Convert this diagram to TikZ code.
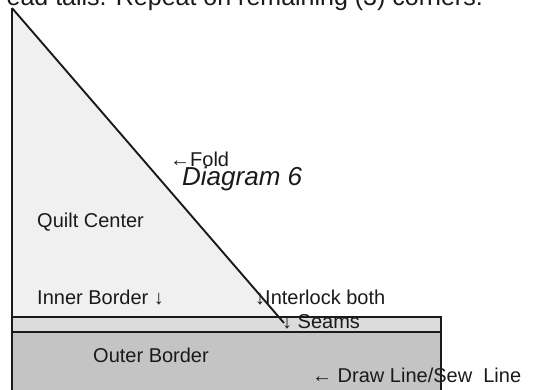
\documentclass[tikz,border=0pt]{standalone}
\usepackage{fontspec}
\setmainfont{Liberation Sans}
\usetikzlibrary{positioning}
\definecolor{ink}      {HTML}{1A1A1A}
\definecolor{centerfill}{HTML}{F0F0F0}
\definecolor{innerfill}{HTML}{DCDCDC}
\definecolor{outerfill}{HTML}{C4C4C4}
\tikzset{
  edgeline/.style ={draw=ink, line width=1.9pt},
  lbl/.style      ={anchor=base west, inner sep=0pt, text=ink,
                    font=\fontsize{20}{24}\selectfont},
  titlelbl/.style ={anchor=base west, inner sep=0pt, text=ink,
                    font=\fontsize{26}{30}\selectfont\itshape},
}
\begin{document}
\begin{tikzpicture}[x=1pt,y=-1pt]
    \useasboundingbox (0,0) rectangle (550,390);
    \clip (0,0) rectangle (550,390);

    % pieces of the quilt corner
    \fill[centerfill] (12,8) -- (279,317) -- (12,317) -- cycle;
    \draw[edgeline, fill=outerfill] (12,332) rectangle (441,400);
    \draw[edgeline, fill=innerfill] (12,317) rectangle (441,332);
    \coordinate (apex) at (12,8);
    \coordinate (seam) at (284,323);
    \coordinate (foot) at (12,400);
    \draw[edgeline] (apex) -- (foot);
    \draw[edgeline] (apex) -- (seam);

    % texts
    \node[anchor=base east, inner sep=0pt, text=ink, font=\fontsize{25}{30}\selectfont] (intro) at (483,6) {ead tails. Repeat on remaining (3) corners.};
    \node[lbl] (fold) at (170,167) {←Fold};
    \node[titlelbl] (diag) at (182,186) {Diagram 6};
    \node[lbl] (center) at (37,228) {Quilt Center};
    \node[lbl] (inner) at (37,305) {Inner Border ↓};
    \node[lbl] (interlock) at (255,305) {↓Interlock both};
    \node[lbl] (seams) at (282,329) {↓ Seams};
    \node[lbl] (outer) at (93,363) {Outer Border};
    \node[lbl] (sewline) at (312,383) {← Draw Line/Sew\ \ Line};
  \end{tikzpicture}
\end{document}
